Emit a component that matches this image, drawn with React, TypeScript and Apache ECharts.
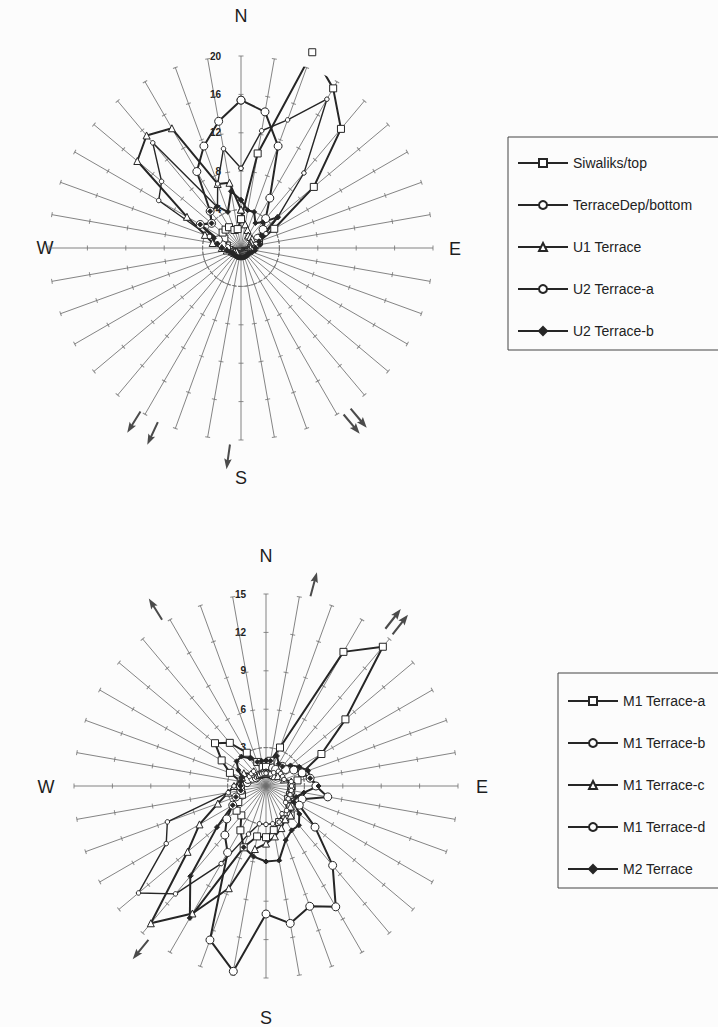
import React, { useEffect, useRef } from "react";
import * as echarts from "echarts";

// Directions (degrees, clockwise from North)
const DIRS = [0, 10, 20, 30, 40, 50, 60, 70, 80, 90, 100, 110, 120, 130, 140, 150, 160, 170,
  180, 190, 200, 210, 220, 230, 240, 250, 260, 270, 280, 290, 300, 310, 320, 330, 340, 350];

const TOP_TICKS = [4, 8, 12, 16, 20];
const BOTTOM_TICKS = [3, 6, 9, 12, 15];

// ---- Upper rose (U-series) ----
const TOP_NAMES = ["Siwaliks/top", "TerraceDep/bottom", "U1 Terrace", "U2 Terrace-a", "U2 Terrace-b"];
const SIWALIKS_TOP = [3, 10, 21.7, 19.2, 16.2, 9.9, 4, 2, 1.5, 1.2, 1, 0.8, 0.6, 0.5, 0.5, 0.5, 0.5, 0.5,
  0.5, 0.5, 0.5, 0.5, 0.5, 0.6, 0.8, 1, 1.2, 1.5, 1.5, 2, 2, 2.5, 2.5, 2.5, 2, 2];
const TERRACEDEP_BOTTOM = [15.4, 14.4, 11.3, 6, 4, 3, 2, 1.5, 1.5, 1.2, 1, 1, 0.8, 0.8, 0.8, 0.8, 0.8, 0.8,
  0.8, 0.8, 0.8, 0.8, 0.8, 0.8, 1, 1, 1.2, 1.5, 2, 2.5, 4.9, 4, 5, 9.2, 11.3, 13.4];
const U1_TERRACE = [4, 2.5, 2, 1.5, 1.5, 1.5, 1.2, 1, 1, 1, 0.8, 0.8, 0.6, 0.6, 0.6, 0.6, 0.6, 0.6,
  0.6, 0.6, 0.6, 0.6, 0.6, 0.6, 0.8, 1, 1.5, 2, 3, 4, 6.5, 14.1, 15.3, 14.4, 7.1, 6.9];
const U2_TERRACE_A = [8.3, 12.4, 14.2, 17.9, 10.2, 5, 3, 2, 2, 1.5, 1.2, 1, 1, 1, 1, 1, 1, 1,
  1, 1, 1, 1, 1, 1, 1, 1.2, 1.5, 2, 2.5, 3.5, 9.9, 10.8, 14.3, 4.9, 7.1, 10.5];
const U2_TERRACE_B = [5, 4, 4, 3, 3.5, 5, 2.5, 2, 2, 1.5, 1.5, 1.2, 1, 1, 1, 1, 1, 1,
  1, 1, 1, 1, 1, 1, 1, 1.2, 1.5, 2, 2.5, 3, 4.9, 4, 5, 5, 4, 6];

// ---- Lower rose (M-series) ----
const BOTTOM_NAMES = ["M1 Terrace-a", "M1 Terrace-b", "M1 Terrace-c", "M1 Terrace-d", "M2 Terrace"];
const M1_TERRACE_A = [1.5, 2, 3.2, 12.1, 14.2, 8.1, 5, 3, 2.5, 2, 2, 2, 2, 2.5, 3, 3, 3, 3.5,
  4, 4, 5.1, 4, 3, 3, 2.5, 2, 2, 2, 2, 3, 4, 5.2, 4.4, 3, 2, 1.5];
const M1_TERRACE_B = [1, 1, 1.5, 1.5, 2, 2, 2.5, 3, 3.5, 3.9, 4.9, 3, 3, 5, 8.1, 10.9, 10, 10.9,
  10, 14.7, 12.8, 6, 5, 4, 3, 2.5, 2, 2, 1.5, 1.5, 1.2, 1, 1, 1, 1, 1];
const M1_TERRACE_C = [1, 1, 1, 1, 1, 1.2, 1.5, 1.5, 2, 2, 2, 2, 2, 2.5, 3, 3, 3.5, 4,
  4.5, 5, 8.5, 11.5, 14, 8, 6, 4, 3, 2.5, 2, 2, 2, 1.5, 1.5, 1, 1, 1];
const M1_TERRACE_D = [1, 1, 1, 1.2, 1.5, 1.5, 1.5, 1.5, 2, 2, 2, 2, 2, 2, 2.5, 2.5, 3, 3,
  3, 3, 4, 7, 11, 13, 9, 8.2, 3, 2.5, 2, 2, 1.5, 1.5, 1.5, 1, 1, 1];
const M2_TERRACE = [2, 2, 2.5, 2, 2, 2.5, 3, 3.5, 3.5, 4.1, 3, 2.5, 2.5, 3.4, 4, 4, 4.5, 5.9,
  5.9, 5.6, 5.1, 11.9, 9.2, 5, 3, 2.5, 2, 2, 2, 2, 2.5, 3, 3, 2.5, 2, 2];

// ---- Mean-direction arrows (radius in axis units, position bearing, pointing bearing) ----
const TOP_ARROW_R = [21.3, 21.4, 21.8, 21.6];
const TOP_ARROW_AT = [211.6, 205.5, 183.5, 146.6];
const TOP_ARROW_DIR = [212, 205, 188, 140];
const TOP_ARROW_KIND = ["single", "single", "single", "double"];
const BOTTOM_ARROW_R = [16.3, 16.2, 16.4, 16.1];
const BOTTOM_ARROW_AT = [328, 13.3, 38.5, 217.5];
const BOTTOM_ARROW_DIR = [328, 15, 38, 219];
const BOTTOM_ARROW_KIND = ["single", "single", "double", "single"];

const SINGLE_ARROW = "path://M6,0L12,11L7.6,9.5L7.6,26L4.4,26L4.4,9.5L0,11Z";
const DOUBLE_ARROW =
  "path://M6,0L12,11L7.6,9.5L7.6,26L4.4,26L4.4,9.5L0,11Z M20,0L26,11L21.6,9.5L21.6,26L18.4,26L18.4,9.5L14,11Z";

const FONT = "Liberation Sans, Arial, Helvetica, sans-serif";
const INK = "#262626";

const MARKERS = [
  { symbol: "rect", size: 7, fill: "#fff" },
  { symbol: "circle", size: 8, fill: "#fff" },
  { symbol: "triangle", size: 7, fill: "#fff" },
  { symbol: "circle", size: 4.5, fill: "#fff" },
  { symbol: "diamond", size: 5, fill: INK },
];

function closed(values: number[]) {
  const pts = DIRS.map((d, i) => [values[i], d]);
  pts.push([values[0], 360]);
  return pts;
}

function lineSeries(name: string, values: number[], polarIndex: number, k: number) {
  const m = MARKERS[k];
  return {
    type: "line",
    name,
    coordinateSystem: "polar",
    polarIndex,
    data: closed(values),
    symbol: m.symbol,
    symbolSize: m.size,
    showSymbol: true,
    clip: false,
    z: 3,
    lineStyle: { color: INK, width: k === 3 ? 1.4 : 2 },
    itemStyle: { color: m.fill, borderColor: INK, borderWidth: 1 },
  };
}

function tickSeries(polarIndex: number, ticks: number[]) {
  const data: any[] = [];
  DIRS.forEach((d) => {
    ticks.forEach((t) => {
      data.push({ value: [t, d], symbolRotate: -d });
    });
  });
  return {
    type: "scatter",
    coordinateSystem: "polar",
    polarIndex,
    silent: true,
    clip: false,
    z: 1,
    symbol: "rect",
    symbolSize: [5, 1],
    itemStyle: { color: "#707070" },
    data,
  };
}

function arrowSeries(polarIndex: number, r: number[], at: number[], dir: number[], kind: string[]) {
  return {
    type: "scatter",
    coordinateSystem: "polar",
    polarIndex,
    silent: true,
    clip: false,
    z: 4,
    itemStyle: { color: "#1e1e1e" },
    data: r.map((rv, i) => ({
      value: [rv, at[i]],
      symbol: kind[i] === "double" ? DOUBLE_ARROW : SINGLE_ARROW,
      symbolSize: kind[i] === "double" ? [17, 25] : [7.5, 25],
      symbolRotate: -dir[i],
    })),
  };
}

function angleAxis(polarIndex: number) {
  return {
    polarIndex,
    type: "value",
    min: 0,
    max: 360,
    interval: 10,
    startAngle: 90,
    clockwise: true,
    axisLine: { show: false },
    axisTick: { show: false },
    axisLabel: { show: false },
    splitLine: { show: true, lineStyle: { color: "#6e6e6e", width: 0.85 } },
  };
}

function radiusAxis(polarIndex: number, max: number, interval: number) {
  const t = "rgba(0,0,0,0)";
  return {
    polarIndex,
    type: "value",
    min: 0,
    max,
    interval,
    axisLine: { show: false },
    axisTick: { show: false },
    axisLabel: {
      show: true,
      showMinLabel: false,
      margin: 20,
      fontSize: 10,
      fontWeight: "bold",
      color: "#222",
      fontFamily: FONT,
    },
    splitLine: { show: true, lineStyle: { color: [t, "#666", t, t, t, t], type: "dashed", width: 0.9 } },
  };
}

function legend(names: string[], left: number, top: number, padTop: number) {
  return {
    data: names,
    orient: "vertical",
    left,
    top,
    itemWidth: 50,
    itemHeight: 10,
    itemGap: 28,
    selectedMode: false,
    padding: [padTop, 80, 12, 9],
    borderColor: "#444",
    borderWidth: 1,
    backgroundColor: "rgba(255,255,255,0)",
    textStyle: { fontSize: 14, color: "#222", fontFamily: FONT },
  };
}

function compass(cx: number, cy: number, pos: number[][]) {
  const letters = ["N", "E", "S", "W"];
  return letters.map((l, i) => ({
    type: "text",
    x: cx + pos[i][0],
    y: cy + pos[i][1],
    style: {
      text: l,
      font: `18px ${FONT}`,
      fill: "#1e1e1e",
      textAlign: "center",
      textVerticalAlign: "middle",
    },
  }));
}

export default function App() {
  const ref = useRef<HTMLDivElement>(null);
  useEffect(() => {
    if (!ref.current) return;
    const chart = echarts.init(ref.current, undefined, { renderer: "svg" });
    const topSeries = [SIWALIKS_TOP, TERRACEDEP_BOTTOM, U1_TERRACE, U2_TERRACE_A, U2_TERRACE_B];
    const bottomSeries = [M1_TERRACE_A, M1_TERRACE_B, M1_TERRACE_C, M1_TERRACE_D, M2_TERRACE];
    const option: any = {
      animation: false,
      backgroundColor: "#fcfcfc",
      polar: [
        { center: [241, 248], radius: 192 },
        { center: [266, 786], radius: 192 },
      ],
      angleAxis: [angleAxis(0), angleAxis(1)],
      radiusAxis: [radiusAxis(0, 20, 4), radiusAxis(1, 15, 3)],
      legend: [legend(TOP_NAMES, 508, 137, 19), legend(BOTTOM_NAMES, 558, 673, 21)],
      graphic: [
        ...compass(241, 248, [[0, -232], [214, 1], [0, 230], [-196, 0]]),
        ...compass(266, 786, [[0, -230], [216, 1], [0, 232], [-220, 1]]),
      ],
      series: [
        tickSeries(0, TOP_TICKS),
        tickSeries(1, BOTTOM_TICKS),
        ...topSeries.map((v, k) => lineSeries(TOP_NAMES[k], v, 0, k)),
        ...bottomSeries.map((v, k) => lineSeries(BOTTOM_NAMES[k], v, 1, k)),
        arrowSeries(0, TOP_ARROW_R, TOP_ARROW_AT, TOP_ARROW_DIR, TOP_ARROW_KIND),
        arrowSeries(1, BOTTOM_ARROW_R, BOTTOM_ARROW_AT, BOTTOM_ARROW_DIR, BOTTOM_ARROW_KIND),
      ],
    };
    chart.setOption(option);
    return () => chart.dispose();
  }, []);
  return (
    <div
      ref={ref}
      style={{ position: "absolute", left: 0, top: 0, width: 718, height: 1027 }}
    />
  );
}
